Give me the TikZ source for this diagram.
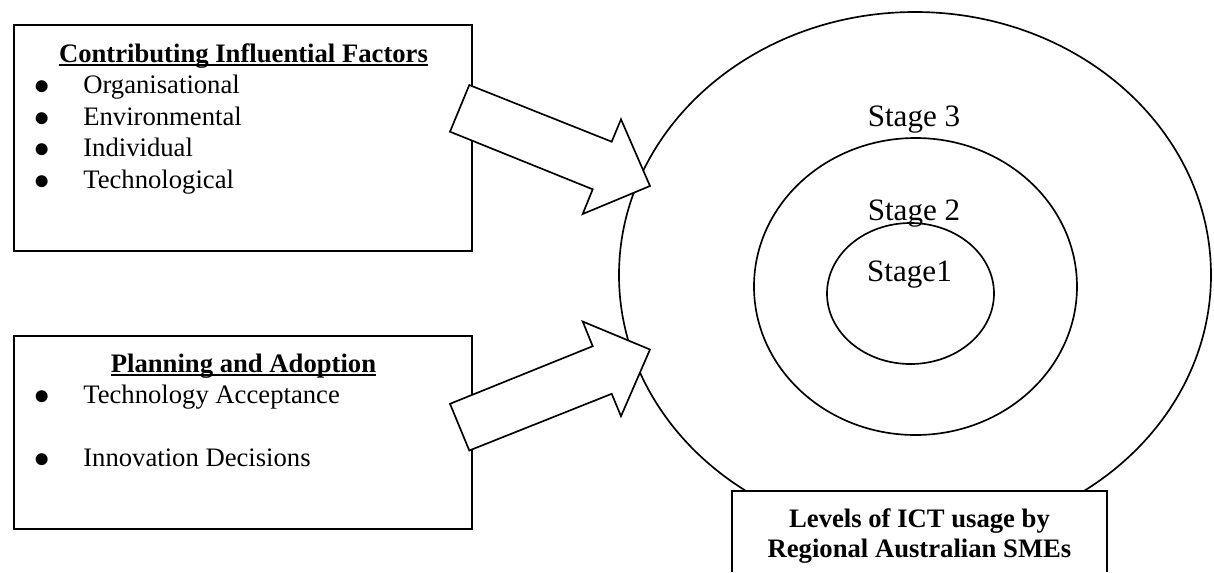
\documentclass[tikz,border=0pt]{standalone}
\usepackage{fontspec}
\setmainfont{Liberation Serif}
\usetikzlibrary{shapes.geometric}
\begin{document}
\begin{tikzpicture}[x=0.45pt, y=-0.45pt,
  frame/.style={draw, line width=0.75pt, fill=white, inner sep=0pt, outer sep=0pt},
  ring/.style={draw, ellipse, line width=0.75pt, inner sep=0pt, outer sep=0pt},
  item/.style={inner sep=0pt, outer sep=0pt, font=\fontsize{12pt}{14pt}\selectfont, anchor=base west},
  title/.style={inner sep=0pt, outer sep=0pt, font=\fontsize{12pt}{14pt}\selectfont\bfseries, anchor=base},
  stage/.style={inner sep=0pt, outer sep=0pt, font=\fontsize{14pt}{16pt}\selectfont, anchor=base},
  bul/.style={inner sep=0pt, outer sep=0pt, font=\fontsize{12.5pt}{13pt}\selectfont, anchor=base},
  uline/.style={line width=0.9pt},
  blockarrow/.style={draw, fill=white, line width=0.75pt, line join=miter}]
\useasboundingbox (0,0) rectangle (1214,572);

% nested usage levels
\node[ring, minimum width=266.4pt, minimum height=236.7pt] (outer) at (915,275) {};
\node[ring, minimum width=145.35pt, minimum height=133.65pt] (middle) at (915.5,286.5) {};
\node[ring, minimum width=75.15pt, minimum height=63.45pt] (inner) at (910.5,293.5) {};
\node[stage] (s3) at (914,126.7) {Stage 3};
\node[stage] (s2) at (914,220) {Stage 2};
\node[stage] (s1) at (909.5,281.7) {Stage1};

% influencing factors
\node[frame, minimum width=206.1pt, minimum height=101.7pt] (factors) at (243,138) {};
\node[title] (t1) at (243.5,62.5) {Contributing Influential Factors};
\draw[uline] ([yshift=-1.3pt]t1.base west) -- ([yshift=-1.3pt]t1.base east);
\foreach \txt/\yy [count=\i] in {Organisational/93.5, Environmental/125, Individual/156.5, Technological/188}{
  \node[bul] (fb\i) at (41.7,\yy+1.2) {●};
  \node[item] (fi\i) at (83.3,\yy) {\txt};
}

% planning and adoption
\node[frame, minimum width=206.1pt, minimum height=86.85pt] (planning) at (243,432.5) {};
\node[title] (t2) at (243.5,372) {Planning and Adoption};
\draw[uline] ([yshift=-1.3pt]t2.base west) -- ([yshift=-1.3pt]t2.base east);
\node[bul] (pb1) at (41.7,404.2) {●};
\node[item] (pi1) at (83.3,403) {Technology Acceptance};
\node[bul] (pb2) at (41.7,467.2) {●};
\node[item] (pi2) at (83.3,466) {Innovation Decisions};

% caption box under the rings
\coordinate (cbl) at (732,572);
\coordinate (ctl) at (732,491);
\coordinate (ctr) at (1107,491);
\coordinate (cbr) at (1107,572);
\fill[white] (cbl) rectangle (ctr);
\draw[line width=0.75pt] (cbl) -- (ctl) -- (ctr) -- (cbr);
\node[title] (levels1) at (919.5,527) {Levels of ICT usage by};
\node[title] (levels2) at (919.5,557) {Regional Australian SMEs};

% block arrows towards the rings
\coordinate (a1) at (469.3,85);
\coordinate (a2) at (611.7,141.7);
\coordinate (a3) at (621,119.3);
\coordinate (a4) at (650,186);
\coordinate (a5) at (582.7,214);
\coordinate (a6) at (592.7,189.3);
\coordinate (a7) at (450,131.7);
\draw[blockarrow] (a1) -- (a2) -- (a3) -- (a4) -- (a5) -- (a6) -- (a7) -- cycle;

\coordinate (b1) at (469.3,450.5);
\coordinate (b2) at (611.7,393.8);
\coordinate (b3) at (621,416.2);
\coordinate (b4) at (650,349.5);
\coordinate (b5) at (582.7,321.5);
\coordinate (b6) at (592.7,346.2);
\coordinate (b7) at (450,403.8);
\draw[blockarrow] (b1) -- (b2) -- (b3) -- (b4) -- (b5) -- (b6) -- (b7) -- cycle;
\end{tikzpicture}
\end{document}
